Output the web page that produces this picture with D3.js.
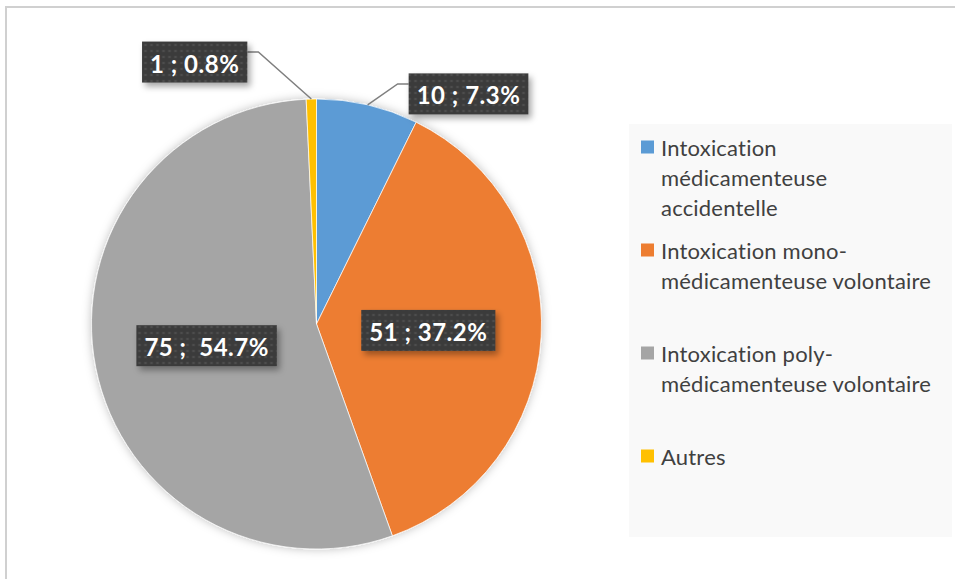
<!DOCTYPE html>
<html>
<head>
<meta charset="utf-8">
<script src="https://cdn.jsdelivr.net/npm/d3@7"></script>
<style>
    body { margin: 0; background: #fff; }
    svg { display: block; }
    text { font-variant-ligatures: none; white-space: pre; }
</style>
</head>
<body>
<div id="chart"></div>
<script>
const categories = [
    "Intoxication médicamenteuse accidentelle",
    "Intoxication mono-médicamenteuse volontaire",
    "Intoxication poly-médicamenteuse volontaire",
    "Autres"
]
const values = [10, 51, 75, 1]
const percents = ["7.3%", "37.2%", "54.7%", "0.8%"]
const labelTexts = ["10 ; 7.3%", "51 ; 37.2%", "75 ;  54.7%", "1 ; 0.8%"]
const legendLines = [
    ["Intoxication", "médicamenteuse", "accidentelle"],
    ["Intoxication mono-", "médicamenteuse volontaire"],
    ["Intoxication poly-", "médicamenteuse volontaire"],
    ["Autres"]
]
const colors = ["#5B9BD5", "#ED7D31", "#A5A5A5", "#FFC000"]

const width = 955, height = 579
const cx = 316.5, cy = 324, radius = 225

const svg = d3.select("#chart").append("svg")
    .attr("width", width)
    .attr("height", height)

const defs = svg.append("defs")

// dotted texture of the label boxes
const pat = defs.append("pattern")
    .attr("id", "dots")
    .attr("width", 6).attr("height", 6)
    .attr("patternUnits", "userSpaceOnUse")
pat.append("rect").attr("width", 6).attr("height", 6).attr("fill", "#3b3b3b")
pat.append("circle").attr("cx", 3).attr("cy", 3).attr("r", 1.3).attr("fill", "#4d4d4d")

const boxShadow = defs.append("filter").attr("id", "boxShadow")
    .attr("x", "-20%").attr("y", "-30%").attr("width", "140%").attr("height", "170%")
boxShadow.append("feDropShadow")
    .attr("dx", 3).attr("dy", 4).attr("stdDeviation", 3)
    .attr("flood-color", "#000").attr("flood-opacity", 0.35)

const pieShadow = defs.append("filter").attr("id", "pieShadow")
    .attr("x", "-10%").attr("y", "-10%").attr("width", "120%").attr("height", "120%")
pieShadow.append("feDropShadow")
    .attr("dx", 0).attr("dy", 0).attr("stdDeviation", 5)
    .attr("flood-color", "#000").attr("flood-opacity", 0.25)

/* FRAME */
svg.append("path")
    .attr("d", `M6,${height + 5} V7 H${width + 5}`)
    .attr("fill", "none")
    .attr("stroke", "#d0d0d0")
    .attr("stroke-width", 2)

/* PIE */
const pie = d3.pie().sort(null).value(d => d)
const arcs = pie(values)
const arc = d3.arc().innerRadius(0).outerRadius(radius)

const pieGroup = svg.append("g")
    .attr("transform", `translate(${cx}, ${cy})`)

pieGroup.append("g")
    .attr("filter", "url(#pieShadow)")
    .selectAll("path")
    .data(arcs)
    .enter()
    .append("path")
    .attr("d", arc)
    .attr("fill", (d, i) => colors[i])
    .attr("stroke", "#fff")
    .attr("stroke-width", 0.7)

/* LABELS */
const boxH = 41
// inside labels sit at half radius, outside ones get a leader line
const labelLayout = [
    { outside: true, elbow: [30, -21], gap: 11, side: 1 },
    { outside: false, r: 112 },
    { outside: false, r: 112 },
    { outside: true, elbow: [-53, -47], gap: 11, side: -1 }
]

const labelGroup = svg.append("g")
    .attr("transform", `translate(${cx}, ${cy})`)

const midAngle = d => (d.startAngle + d.endAngle) / 2
const polar = (a, r) => [Math.sin(a) * r, -Math.cos(a) * r]

arcs.forEach((d, i) => {
    const lay = labelLayout[i]
    const g = labelGroup.append("g")
    const txt = g.append("text")
        .attr("text-anchor", "middle")
        .attr("dominant-baseline", "central")
        .attr("fill", "#fff")
        .attr("font-family", "Lato, 'Open Sans', sans-serif")
        .attr("font-weight", "bold")
        .attr("font-size", 24)
        .attr("letter-spacing", 0.5)
        .text(labelTexts[i])
    const tw = txt.node().getComputedTextLength()
    const boxW = tw + 16

    let bx, by
    if (lay.outside) {
        const p = polar(midAngle(d), radius)
        const elbow = [p[0] + lay.elbow[0], p[1] + lay.elbow[1]]
        const end = [elbow[0] + lay.side * lay.gap, elbow[1]]
        labelGroup.insert("path", "g")
            .attr("d", d3.line()([p, elbow, end]))
            .attr("fill", "none")
            .attr("stroke", "#7f7f7f")
            .attr("stroke-width", 1.5)
        bx = lay.side > 0 ? end[0] + boxW / 2 : end[0] - boxW / 2
        by = end[1] + 10
    } else {
        const p = polar(midAngle(d), lay.r)
        bx = p[0]
        by = p[1]
    }

    g.insert("rect", "text")
        .attr("x", bx - boxW / 2)
        .attr("y", by - boxH / 2)
        .attr("width", boxW)
        .attr("height", boxH)
        .attr("fill", "url(#dots)")
        .attr("filter", "url(#boxShadow)")
    txt.attr("x", bx).attr("y", by + 1)
})

/* LEGEND */
const legend = svg.append("g")
legend.append("rect")
    .attr("x", 629).attr("y", 124)
    .attr("width", 323).attr("height", 413)
    .attr("fill", "#f9f9f9")

const itemTops = [147, 250, 353, 456]
const lineH = 30

legendLines.forEach((lines, i) => {
    const item = legend.append("g")
        .attr("transform", `translate(641, ${itemTops[i]})`)
    item.append("rect")
        .attr("x", 0).attr("y", -6.5)
        .attr("width", 13).attr("height", 13)
        .attr("fill", colors[i])
    const t = item.append("text")
        .attr("font-family", "Lato, 'Open Sans', sans-serif")
        .attr("font-size", 22)
        .attr("letter-spacing", 0.2)
        .attr("fill", "#404040")
    lines.forEach((line, j) => {
        t.append("tspan")
            .attr("x", 20)
            .attr("y", j * lineH)
            .attr("dominant-baseline", "central")
            .text(line)
    })
})
</script>
</body>
</html>
